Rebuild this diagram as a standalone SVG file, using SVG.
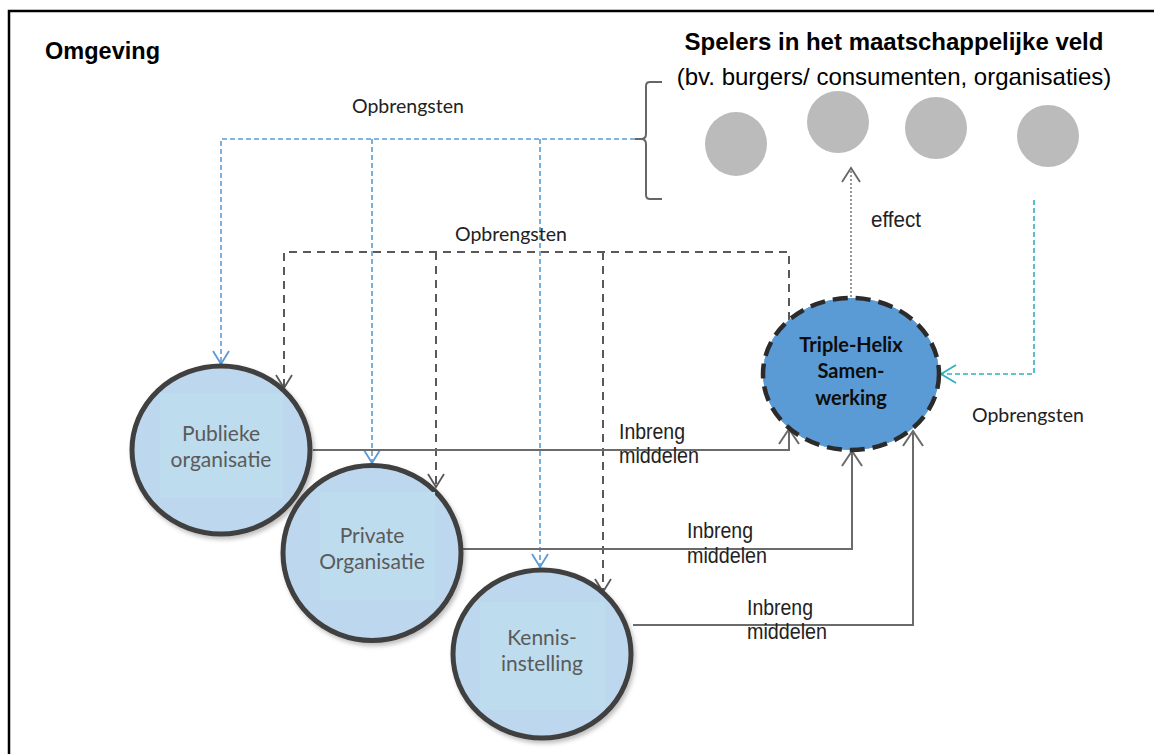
<svg xmlns="http://www.w3.org/2000/svg" width="1154" height="754" viewBox="0 0 1154 754">
  <style>
    .title { font-family: "Liberation Sans", Arial, sans-serif; font-weight: bold; font-size: 24px; fill: #000; }
    .sub { font-family: "Liberation Sans", Arial, sans-serif; font-size: 24px; fill: #000; }
    .lbl { font-family: Lato, "Noto Sans", sans-serif; font-size: 19.5px; fill: #222; }
    .narrow { font-family: "Liberation Sans", Arial, sans-serif; font-size: 22px; fill: #222; }
    .org { fill: #BDD7EE; stroke: #404040; stroke-width: 5; }
    .orgbox { fill: #BDDCEE; }
    .orgtxt { font-family: Lato, "Noto Sans", sans-serif; font-size: 21px; fill: #5A5A5A; text-anchor: middle; }
    .helix { fill: #5B9BD5; stroke: #2B2B2B; stroke-width: 4.5; stroke-dasharray: 15 8; }
    .helixtxt { font-family: Lato, "Noto Sans", sans-serif; font-weight: bold; font-size: 20px; fill: #0D0D0D; text-anchor: middle; }
    .player { fill: #BBBBBB; }
    .blue { fill: none; stroke: #5B9BD5; stroke-width: 1.6; stroke-dasharray: 5 3; }
    .greyd { fill: none; stroke: #595959; stroke-width: 2; stroke-dasharray: 8 6; }
    .solid { fill: none; stroke: #6B6B6B; stroke-width: 2; }
    .teal { fill: none; stroke: #2EB1BE; stroke-width: 1.6; stroke-dasharray: 5 3; }
    .dot { fill: none; stroke: #777; stroke-width: 1.5; stroke-dasharray: 2 2; }
  </style>
  <defs>
    <marker id="aBlue" viewBox="-15 -10 17 20" refX="0" refY="0" markerWidth="17" markerHeight="20" markerUnits="userSpaceOnUse" orient="auto">
      <path d="M-13,-8 L0,0 L-13,8" fill="none" stroke="#5B9BD5" stroke-width="1.8"/>
    </marker>
    <marker id="aGrey" viewBox="-15 -10 17 20" refX="0" refY="0" markerWidth="17" markerHeight="20" markerUnits="userSpaceOnUse" orient="auto">
      <path d="M-13,-8 L0,0 L-13,8" fill="none" stroke="#595959" stroke-width="1.8"/>
    </marker>
    <marker id="aSolid" viewBox="-17 -11 19 22" refX="0" refY="0" markerWidth="19" markerHeight="22" markerUnits="userSpaceOnUse" orient="auto">
      <path d="M-15,-10 L0,0 L-15,10" fill="none" stroke="#6B6B6B" stroke-width="2"/>
    </marker>
    <marker id="aTeal" viewBox="-17 -11 19 22" refX="0" refY="0" markerWidth="19" markerHeight="22" markerUnits="userSpaceOnUse" orient="auto">
      <path d="M-15,-9 L0,0 L-15,9" fill="none" stroke="#2EB1BE" stroke-width="1.8"/>
    </marker>
    <marker id="aEffect" viewBox="-17 -11 19 22" refX="0" refY="0" markerWidth="19" markerHeight="22" markerUnits="userSpaceOnUse" orient="auto">
      <path d="M-14,-9 L0,0 L-14,9" fill="none" stroke="#666" stroke-width="1.8"/>
    </marker>
    <filter id="shadow" x="-20%" y="-20%" width="140%" height="140%">
      <feDropShadow dx="2" dy="3" stdDeviation="2" flood-color="#000" flood-opacity="0.25"/>
    </filter>
    <clipPath id="clipTop">
      <rect x="1010" y="105" width="80" height="70"/>
    </clipPath>
  </defs>

  <rect width="1154" height="754" fill="#fff"/>

  <!-- surrounding frame (environment) -->
  <g id="omgeving">
    <path d="M9,754 V11 H1154" fill="none" stroke="#000" stroke-width="2.5"/>
    <text class="title" x="45" y="59" textLength="115" lengthAdjust="spacingAndGlyphs">Omgeving</text>
  </g>

  <!-- societal players -->
  <g id="spelers">
    <text class="title" x="894" y="50" text-anchor="middle">Spelers in het maatschappelijke veld</text>
    <text class="sub" x="894" y="85" text-anchor="middle">(bv. burgers/ consumenten, organisaties)</text>
    <ellipse class="player" cx="736" cy="144" rx="31" ry="32"/>
    <ellipse class="player" cx="838" cy="122" rx="31" ry="31"/>
    <ellipse class="player" cx="936" cy="128" rx="31" ry="31"/>
    <ellipse class="player" cx="1048" cy="136" rx="31" ry="31" clip-path="url(#clipTop)"/>
    <path d="M662,82 H650 Q646,82 646,86 V134 Q646,139 641,139 Q646,139 646,144 V195 Q646,199 650,199 H662" fill="none" stroke="#666" stroke-width="2"/>
  </g>

  <!-- connectors -->
  <g id="connectors">
    <!-- returns to the partners (blue) -->
    <path class="blue" d="M635,139 H221 V364" marker-end="url(#aBlue)"/>
    <path class="blue" d="M372,139 V463" marker-end="url(#aBlue)"/>
    <path class="blue" d="M540,139 V567" marker-end="url(#aBlue)"/>
    <line x1="635" y1="139" x2="641" y2="139" stroke="#666" stroke-width="2"/>
    <!-- returns from the collaboration (grey dashed) -->
    <path class="greyd" d="M789,320 V252 H284 V388" marker-end="url(#aGrey)"/>
    <path class="greyd" d="M436,252 V487" marker-end="url(#aGrey)"/>
    <path class="greyd" d="M603,252 V592" marker-end="url(#aGrey)"/>
    <!-- contributions of resources -->
    <path class="solid" d="M313,450 H789 V429" marker-end="url(#aSolid)"/>
    <path class="solid" d="M463,549 H852 V451" marker-end="url(#aSolid)"/>
    <path class="solid" d="M633,625 H913 V431" marker-end="url(#aSolid)"/>
    <!-- effect and returns from society -->
    <path class="dot" d="M851,297 V168" marker-end="url(#aEffect)"/>
    <path class="teal" d="M1034,200 V374 H941" marker-end="url(#aTeal)"/>
  </g>

  <!-- labels -->
  <g id="labels">
    <text class="lbl" x="352" y="113">Opbrengsten</text>
    <text class="lbl" x="455" y="241">Opbrengsten</text>
    <text class="lbl" x="972" y="422">Opbrengsten</text>
    <text class="narrow" x="871" y="227" textLength="50" lengthAdjust="spacingAndGlyphs">effect</text>
    <text class="narrow" x="619" y="439" textLength="66" lengthAdjust="spacingAndGlyphs">Inbreng</text>
    <text class="narrow" x="619" y="463" textLength="80" lengthAdjust="spacingAndGlyphs">middelen</text>
    <text class="narrow" x="687" y="538" textLength="66" lengthAdjust="spacingAndGlyphs">Inbreng</text>
    <text class="narrow" x="687" y="563" textLength="80" lengthAdjust="spacingAndGlyphs">middelen</text>
    <text class="narrow" x="747" y="615" textLength="66" lengthAdjust="spacingAndGlyphs">Inbreng</text>
    <text class="narrow" x="747" y="639" textLength="80" lengthAdjust="spacingAndGlyphs">middelen</text>
  </g>

  <!-- Triple-Helix collaboration -->
  <g id="triple-helix">
    <ellipse cx="851" cy="374" rx="88" ry="76" fill="#5B9BD5"/>
    <rect x="792" y="332" width="120" height="85" fill="#5899D9"/>
    <ellipse class="helix" cx="851" cy="374" rx="88" ry="76"/>
    <text class="helixtxt" x="851" y="352">Triple-Helix</text>
    <text class="helixtxt" x="851" y="378">Samen-</text>
    <text class="helixtxt" x="851" y="405">werking</text>
  </g>

  <!-- partners -->
  <g id="publieke-organisatie">
    <ellipse class="org" cx="221" cy="450" rx="89" ry="84" filter="url(#shadow)"/>
    <rect class="orgbox" x="160" y="393" width="123" height="105"/>
    <text class="orgtxt" x="221" y="441">Publieke</text>
    <text class="orgtxt" x="221" y="467">organisatie</text>
  </g>
  <g id="private-organisatie">
    <ellipse class="org" cx="372" cy="553" rx="89" ry="87.5" filter="url(#shadow)"/>
    <rect class="orgbox" x="320" y="492" width="115" height="108"/>
    <text class="orgtxt" x="372" y="543">Private</text>
    <text class="orgtxt" x="372" y="569">Organisatie</text>
  </g>
  <g id="kennisinstelling">
    <ellipse class="org" cx="542" cy="654" rx="89" ry="84" filter="url(#shadow)"/>
    <rect class="orgbox" x="480" y="602" width="125" height="108"/>
    <text class="orgtxt" x="542" y="645">Kennis-</text>
    <text class="orgtxt" x="542" y="671">instelling</text>
  </g>
</svg>
